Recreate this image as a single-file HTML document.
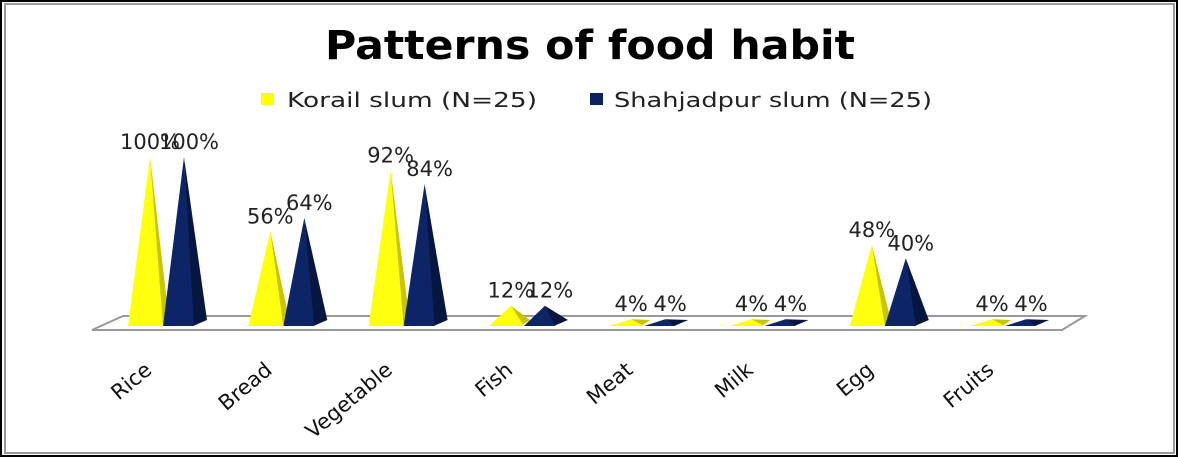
<!DOCTYPE html>
<html><head><meta charset="utf-8"><style>
html,body{margin:0;padding:0;background:#fff}
svg{display:block}
text{font-family:"DejaVu Sans","Liberation Sans",sans-serif}
</style></head><body>
<svg width="1178" height="458" viewBox="0 0 1178 458" xmlns="http://www.w3.org/2000/svg">
<rect x="1" y="1" width="1176" height="455" fill="#fff" stroke="#000" stroke-width="2"/>
<rect x="5" y="4" width="1169" height="449" fill="none" stroke="#999" stroke-width="2"/>
<text x="325" y="59" textLength="530" lengthAdjust="spacingAndGlyphs" font-size="40" font-weight="bold" fill="#000">Patterns of food habit</text>
<rect x="261" y="93" width="13" height="12" fill="#ffff00"/>
<text x="287" y="107" textLength="250" lengthAdjust="spacingAndGlyphs" font-size="20" fill="#222">Korail slum  (N=25)</text>
<rect x="590" y="93" width="13" height="12" fill="#0a215f"/>
<text x="614" y="107" textLength="318" lengthAdjust="spacingAndGlyphs" font-size="20" fill="#222">Shahjadpur slum (N=25)</text>
<polygon points="123,316 1085,316 1062,330 92,330" fill="#fff" stroke="#999" stroke-width="2"/>
<g id="bars"></g>
<g font-size="21" fill="#222" id="labels"></g>
<g font-size="21" fill="#111" id="cats"></g>
<script>
var d=[["Rice",100,100],["Bread",56,64],["Vegetable",92,84],["Fish",12,12],["Meat",4,4],["Milk",4,4],["Egg",48,40],["Fruits",4,4]];
var ns="http://www.w3.org/2000/svg",b=document.getElementById("bars"),l=document.getElementById("labels"),c=document.getElementById("cats");
function p(pts,f){var e=document.createElementNS(ns,"polygon");e.setAttribute("points",pts);e.setAttribute("fill",f);b.appendChild(e);}
function t(g,x,y,s,a,r){var e=document.createElementNS(ns,"text");e.setAttribute("x",x);e.setAttribute("y",y);if(a)e.setAttribute("text-anchor",a);if(r)e.setAttribute("transform","rotate("+r+" "+x+" "+y+")");e.textContent=s;g.appendChild(e);}
d.forEach(function(r,i){
var ya=150+i*120.3,ba=ya+34,base=326;
var yh=base-r[1]*1.69,bh=base-r[2]*1.69;
p((ya+10)+","+base+" "+ya+","+yh+" "+(ya+19)+","+(base-6),"#c9c400");
p((ya-22)+","+base+" "+ya+","+yh+" "+(ya+13)+","+base,"#ffff10");
p((ba+9)+","+base+" "+ba+","+bh+" "+(ba+23)+","+(base-6),"#071640");
p((ba-21)+","+base+" "+ba+","+bh+" "+(ba+10)+","+base,"#0d2466");
t(l,ya,yh-8,r[1]+"%","middle");
t(l,ba+5,bh-8,r[2]+"%","middle");
t(c,ya+3,372,r[0],"end",-40);
});
</script>
</svg>
</body></html>
